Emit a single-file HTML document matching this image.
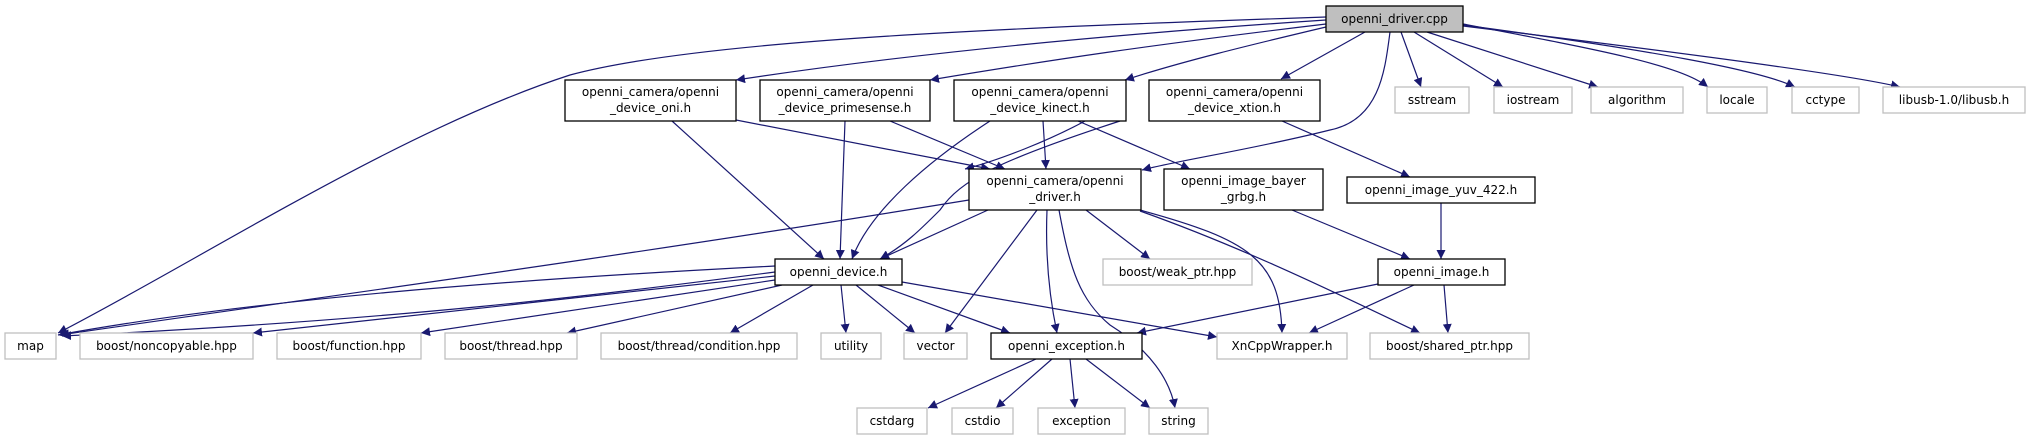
<!DOCTYPE html>
<html><head><meta charset="utf-8"><style>
html,body{margin:0;padding:0;background:#fff;}
svg{display:block;}
text{font-family:"DejaVu Sans","Liberation Sans",sans-serif;font-size:12px;fill:#000;}
.b{fill:#fff;stroke:#000;stroke-width:1.3;}
.g{fill:#fff;stroke:#bfbfbf;stroke-width:1.3;}
.e{fill:none;stroke:#191970;stroke-width:1.2;}
</style></head><body>
<svg width="2029" height="440" viewBox="0 0 2029 440" xmlns="http://www.w3.org/2000/svg">
<defs><marker id="a" viewBox="0 0 10 10" refX="10" refY="5" markerWidth="9" markerHeight="9" markerUnits="userSpaceOnUse" orient="auto"><path d="M0,0L10,5L0,10z" fill="#191970"/></marker></defs>
<g class="e" marker-end="url(#a)">
<path d="M1326,17 C1000,28 700,40 570,75 C400,130 200,260 58,333"/>
<path d="M1326,20 C1100,35 900,55 736,80"/>
<path d="M1326,24 C1150,45 1050,60 930,80"/>
<path d="M1326,27 C1250,45 1180,62 1125,80"/>
<path d="M1365,32 L1281,79"/>
<path d="M1390,32 C1385,70 1380,120 1330,130 C1250,150 1180,160 1142,170"/>
<path d="M1401,32 L1421,87"/>
<path d="M1414,32 L1503,87"/>
<path d="M1427,32 L1598,87"/>
<path d="M1463,24 C1600,50 1680,65 1708,87"/>
<path d="M1463,25 C1650,50 1760,70 1795,87"/>
<path d="M1463,26 C1700,55 1850,75 1900,87"/>
<path d="M736,120 L990,169"/>
<path d="M672,121 L824,259"/>
<path d="M845,121 L840,259"/>
<path d="M890,121 L1005,169"/>
<path d="M990,121 C930,160 870,210 852,259"/>
<path d="M1043,121 L1046,169"/>
<path d="M1078,121 L1190,169"/>
<path d="M1120,121 C1000,160 960,180 940,210 C920,230 905,245 880,259"/>
<path d="M1085,121 C1050,140 1000,160 965,169"/>
<path d="M1282,121 L1410,177"/>
<path d="M969,200 C600,260 300,300 60,335"/>
<path d="M988,210 L880,259"/>
<path d="M1037,210 L945,333"/>
<path d="M1047,210 C1045,260 1050,300 1057,333"/>
<path d="M1059,210 C1070,270 1080,300 1110,325 C1150,350 1170,380 1175,408"/>
<path d="M1086,210 L1150,259"/>
<path d="M1140,210 C1250,240 1280,260 1282,333"/>
<path d="M1140,211 C1250,250 1350,300 1420,333"/>
<path d="M1292,210 L1410,259"/>
<path d="M1441,203 L1441,259"/>
<path d="M1378,284 L1137,333"/>
<path d="M1414,285 L1309,333"/>
<path d="M1444,285 L1448,333"/>
<path d="M775,266 C500,280 250,300 58,335"/>
<path d="M775,272 C600,295 400,320 62,336"/>
<path d="M775,276 L253,333"/>
<path d="M775,280 L421,333"/>
<path d="M782,285 L567,333"/>
<path d="M813,285 L730,333"/>
<path d="M841,285 L846,333"/>
<path d="M856,285 L915,333"/>
<path d="M878,285 L1010,333"/>
<path d="M902,282 L1217,337"/>
<path d="M1036,359 L928,408"/>
<path d="M1052,359 L996,408"/>
<path d="M1070,359 L1075,408"/>
<path d="M1086,359 L1150,408"/>
</g>
<rect x="1326" y="6" width="137" height="26" fill="#bfbfbf" stroke="#000" stroke-width="1.3"/>
<text x="1394.5" y="23" text-anchor="middle">openni_driver.cpp</text>

<rect class="b" x="565" y="80" width="171" height="41"/>
<text x="650.5" y="96" text-anchor="middle">openni_camera/openni</text><text x="650.5" y="112" text-anchor="middle">_device_oni.h</text>
<rect class="b" x="760" y="80" width="170" height="41"/>
<text x="845" y="96" text-anchor="middle">openni_camera/openni</text><text x="845" y="112" text-anchor="middle">_device_primesense.h</text>
<rect class="b" x="954" y="80" width="172" height="41"/>
<text x="1040" y="96" text-anchor="middle">openni_camera/openni</text><text x="1040" y="112" text-anchor="middle">_device_kinect.h</text>
<rect class="b" x="1149" y="80" width="171" height="41"/>
<text x="1234.5" y="96" text-anchor="middle">openni_camera/openni</text><text x="1234.5" y="112" text-anchor="middle">_device_xtion.h</text>

<rect class="g" x="1395" y="87" width="74" height="26"/><text x="1432" y="104" text-anchor="middle">sstream</text>
<rect class="g" x="1494" y="87" width="78" height="26"/><text x="1533" y="104" text-anchor="middle">iostream</text>
<rect class="g" x="1591" y="87" width="92" height="26"/><text x="1637" y="104" text-anchor="middle">algorithm</text>
<rect class="g" x="1707" y="87" width="60" height="26"/><text x="1737" y="104" text-anchor="middle">locale</text>
<rect class="g" x="1792" y="87" width="67" height="26"/><text x="1825.5" y="104" text-anchor="middle">cctype</text>
<rect class="g" x="1883" y="87" width="142" height="26"/><text x="1954" y="104" text-anchor="middle">libusb-1.0/libusb.h</text>

<rect class="b" x="969" y="169" width="172" height="41"/>
<text x="1055" y="185" text-anchor="middle">openni_camera/openni</text><text x="1055" y="201" text-anchor="middle">_driver.h</text>
<rect class="b" x="1164" y="169" width="159" height="41"/>
<text x="1243.5" y="185" text-anchor="middle">openni_image_bayer</text><text x="1243.5" y="201" text-anchor="middle">_grbg.h</text>
<rect class="b" x="1347" y="177" width="188" height="26"/><text x="1441" y="194" text-anchor="middle">openni_image_yuv_422.h</text>

<rect class="b" x="775" y="259" width="127" height="26"/><text x="838.5" y="276" text-anchor="middle">openni_device.h</text>
<rect class="g" x="1103" y="259" width="149" height="26"/><text x="1177.5" y="276" text-anchor="middle">boost/weak_ptr.hpp</text>
<rect class="b" x="1378" y="259" width="127" height="26"/><text x="1441.5" y="276" text-anchor="middle">openni_image.h</text>

<rect class="g" x="5" y="333" width="51" height="26"/><text x="30.5" y="350" text-anchor="middle">map</text>
<rect class="g" x="80" y="333" width="173" height="26"/><text x="166.5" y="350" text-anchor="middle">boost/noncopyable.hpp</text>
<rect class="g" x="277" y="333" width="144" height="26"/><text x="349" y="350" text-anchor="middle">boost/function.hpp</text>
<rect class="g" x="445" y="333" width="132" height="26"/><text x="511" y="350" text-anchor="middle">boost/thread.hpp</text>
<rect class="g" x="601" y="333" width="196" height="26"/><text x="699" y="350" text-anchor="middle">boost/thread/condition.hpp</text>
<rect class="g" x="821" y="333" width="60" height="26"/><text x="851" y="350" text-anchor="middle">utility</text>
<rect class="g" x="904" y="333" width="63" height="26"/><text x="935.5" y="350" text-anchor="middle">vector</text>
<rect class="b" x="991" y="333" width="151" height="26"/><text x="1066.5" y="350" text-anchor="middle">openni_exception.h</text>
<rect class="g" x="1217" y="333" width="130" height="26"/><text x="1282" y="350" text-anchor="middle">XnCppWrapper.h</text>
<rect class="g" x="1370" y="333" width="159" height="26"/><text x="1449.5" y="350" text-anchor="middle">boost/shared_ptr.hpp</text>

<rect class="g" x="857" y="408" width="70" height="26"/><text x="892" y="425" text-anchor="middle">cstdarg</text>
<rect class="g" x="952" y="408" width="61" height="26"/><text x="982.5" y="425" text-anchor="middle">cstdio</text>
<rect class="g" x="1038" y="408" width="87" height="26"/><text x="1081.5" y="425" text-anchor="middle">exception</text>
<rect class="g" x="1149" y="408" width="59" height="26"/><text x="1178.5" y="425" text-anchor="middle">string</text>
</svg>
</body></html>
